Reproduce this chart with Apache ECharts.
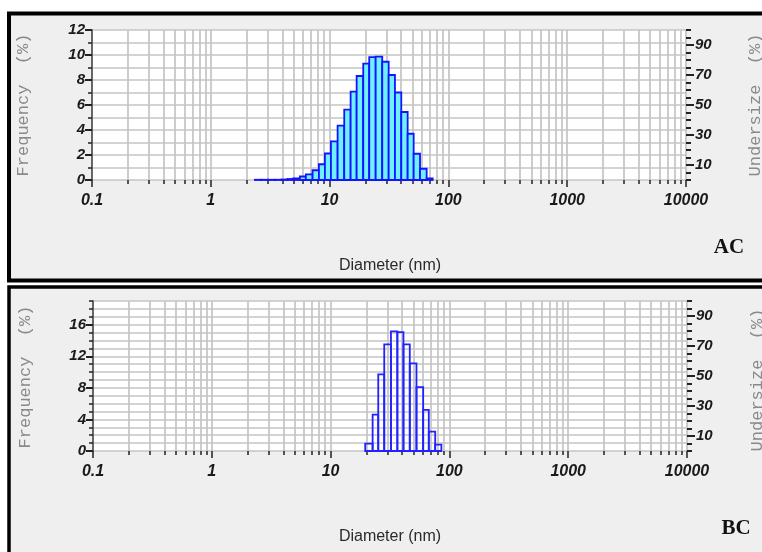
<!DOCTYPE html>
<html>
<head>
<meta charset="utf-8" />
<title>Particle size distribution</title>
<script src="https://cdn.jsdelivr.net/npm/echarts@6/dist/echarts.min.js"></script>
<style>
html, body { margin: 0; padding: 0; background: #fff; }
#main { width: 762px; height: 552px; }
</style>
</head>
<body>
<div id="main"></div>
<script type="text/javascript">
// axis ticks
var decadeTicks = [0.1, 1, 10, 100, 1000, 10000];
var undersizeTicks = [10, 30, 50, 70, 90];
var freqTicksAC = [0, 2, 4, 6, 8, 10, 12];
var freqTicksBC = [0, 4, 8, 12, 16];

// AC histogram: bin edges (nm) and frequency (%)
var edgesAC = [2.35, 2.67, 3.04, 3.46, 3.94, 4.41, 4.94, 5.62, 6.31, 7.19, 8.13, 9.13, 10.26, 11.68, 13.28,
	15.03, 16.89, 19.19, 21.56, 24.42, 27.74, 31.42, 35.49, 40.11, 45.4, 51.0, 57.7, 65.6, 73.7];
var freqAC = [0.02, 0.02, 0.02, 0.02, 0.04, 0.08, 0.13, 0.28, 0.45, 0.78, 1.26, 2.12, 3.09, 4.35,
	5.63, 7.07, 8.32, 9.31, 9.83, 9.87, 9.46, 8.40, 7.00, 5.44, 3.70, 2.10, 0.90, 0.13];

// BC histogram
var edgesBC = [19.56, 22.58, 25.18, 28.28, 32.21, 36.47, 41.05, 46.39, 52.83, 60.15, 67.07, 75.93, 85.6];
var freqBC = [0.94, 4.6, 9.7, 13.5, 15.15, 15.05, 13.5, 11.1, 8.1, 5.2, 2.45, 0.8];

function lg(v) { return Math.log10(v); }

// minor log positions 2..9 in every decade
var minorLog = [];
for (var i = 0; i < decadeTicks.length - 1; i++) {
	for (var k = 2; k < 10; k++) minorLog.push(lg(decadeTicks[i] * k));
}

var numFont = "'Liberation Sans', Arial, sans-serif";
var gridColor = '#c4c4c4';
var tickColor = '#222';

function xAxes(g) {
	return [
		{
			type: 'value', gridIndex: g, position: 'bottom', min: -1, max: 4,
			axisLine: { show: false, onZero: false },
			axisTick: { show: true, customValues: minorLog, length: 4, lineStyle: { color: tickColor, width: 1.5 } },
			axisLabel: { show: false },
			splitLine: { show: true, lineStyle: { color: gridColor, width: 1.7 } }
		},
		{
			type: 'value', gridIndex: g, position: 'bottom', min: -1, max: 4, interval: 1,
			axisLine: { show: false, onZero: false },
			axisTick: { show: true, length: 7, lineStyle: { color: tickColor, width: 1.5 } },
			axisLabel: {
				show: true, margin: 13, color: '#1a1a1a', fontFamily: numFont, fontSize: 16,
				fontWeight: 'bold', fontStyle: 'italic',
				formatter: function (v) { return String(decadeTicks[Math.round(v) + 1]); }
			},
			splitLine: { show: true, lineStyle: { color: gridColor, width: 1.7 } }
		}
	];
}

function yAxes(g, maxF, freqTicks) {
	return [
		{
			type: 'value', gridIndex: g, position: 'left', min: 0, max: maxF, interval: 1,
			axisLine: { show: true, onZero: false, lineStyle: { color: '#444', width: 1.5 } },
			axisTick: { show: true, length: 4, lineStyle: { color: tickColor, width: 1.5 } },
			axisLabel: { show: false },
			splitLine: { show: true, lineStyle: { color: gridColor, width: 1.7 } }
		},
		{
			type: 'value', gridIndex: g, position: 'left', min: 0, max: maxF,
			axisLine: { show: false, onZero: false },
			axisTick: { show: true, customValues: freqTicks, length: 7, lineStyle: { color: tickColor, width: 2 } },
			axisLabel: {
				show: true, customValues: freqTicks, margin: 7, color: '#1a1a1a', fontFamily: numFont,
				fontSize: 15, fontWeight: 'bold', fontStyle: 'italic'
			},
			splitLine: { show: false }
		},
		{
			type: 'value', gridIndex: g, position: 'right', min: 0, max: 100, interval: 5,
			axisLine: { show: false, onZero: false },
			axisTick: { show: true, length: 5, lineStyle: { color: tickColor, width: 2 } },
			axisLabel: { show: false },
			splitLine: { show: false }
		},
		{
			type: 'value', gridIndex: g, position: 'right', min: 0, max: 100,
			axisLine: { show: false, onZero: false },
			axisTick: { show: true, customValues: undersizeTicks, length: 8, lineStyle: { color: tickColor, width: 2 } },
			axisLabel: {
				show: true, customValues: undersizeTicks, margin: 9, color: '#1a1a1a', fontFamily: numFont,
				fontSize: 15, fontWeight: 'bold', fontStyle: 'italic'
			},
			splitLine: { show: false }
		}
	];
}

function histSeries(edges, vals, xi, yi, fill, stroke) {
	var data = vals.map(function (v, i) { return [lg(edges[i]), lg(edges[i + 1]), v]; });
	return {
		type: 'custom', xAxisIndex: xi, yAxisIndex: yi, data: data,
		encode: { x: [0, 1], y: 2 }, silent: true, animation: false, z: 5,
		renderItem: function (params, api) {
			var p0 = api.coord([api.value(0), 0]);
			var p1 = api.coord([api.value(1), api.value(2)]);
			return {
				type: 'rect',
				shape: { x: p0[0], y: p1[1], width: p1[0] - p0[0], height: p0[1] - p1[1] },
				style: { fill: fill, stroke: stroke, lineWidth: 1.8 }
			};
		}
	};
}

function vText(txt, x, y, color, font) {
	return {
		type: 'text', x: x, y: y, rotation: Math.PI / 2, z: 10,
		style: { text: txt, fill: color, font: font, textAlign: 'center', textVerticalAlign: 'middle' }
	};
}
function hText(txt, x, y, color, font) {
	return {
		type: 'text', x: x, y: y, z: 10,
		style: { text: txt, fill: color, font: font, textAlign: 'center', textVerticalAlign: 'middle' }
	};
}

var monoFont = "17px 'Liberation Mono', 'DejaVu Sans Mono', monospace";
var diaFont = "16px 'Liberation Sans', Arial, sans-serif";
var tagFont = "bold 21px 'Liberation Serif', 'DejaVu Serif', serif";

var myChart = echarts.init(document.getElementById('main'));
var option = {
	animation: false,
	grid: [
		{ left: 92, top: 30, width: 594, height: 150, show: true, backgroundColor: '#fff', borderWidth: 0, outerBoundsMode: 'none' },
		{ left: 93, top: 301, width: 594, height: 150, show: true, backgroundColor: '#fff', borderWidth: 0, outerBoundsMode: 'none' }
	],
	xAxis: xAxes(0).concat(xAxes(1)),
	yAxis: yAxes(0, 12, freqTicksAC).concat(yAxes(1, 19, freqTicksBC)),
	series: [
		histSeries(edgesAC, freqAC, 0, 0, '#6ef0ff', '#1414ff'),
		histSeries(edgesBC, freqBC, 2, 4, 'none', '#2222ff')
	],
	graphic: [
		{ type: 'rect', z: -100, shape: { x: 9, y: 13.5, width: 760, height: 267 }, style: { fill: '#efefef', stroke: '#000', lineWidth: 4 } },
		{ type: 'rect', z: -100, shape: { x: 9, y: 287, width: 760, height: 280 }, style: { fill: '#efefef', stroke: '#000', lineWidth: 3.5 } },
		vText('Frequency  (%)', 23, 105, '#8a8a8a', monoFont),
		vText('Undersize  (%)', 755, 105, '#8a8a8a', monoFont),
		vText('Frequency  (%)', 25, 377, '#8a8a8a', monoFont),
		vText('Undersize  (%)', 757, 380, '#8a8a8a', monoFont),
		hText('Diameter (nm)', 390, 266, '#2a2a2a', diaFont),
		hText('Diameter (nm)', 390, 537, '#2a2a2a', diaFont),
		hText('AC', 729, 248, '#111', tagFont),
		hText('BC', 736, 529, '#111', tagFont)
	]
};
myChart.setOption(option);
</script>
</body>
</html>
